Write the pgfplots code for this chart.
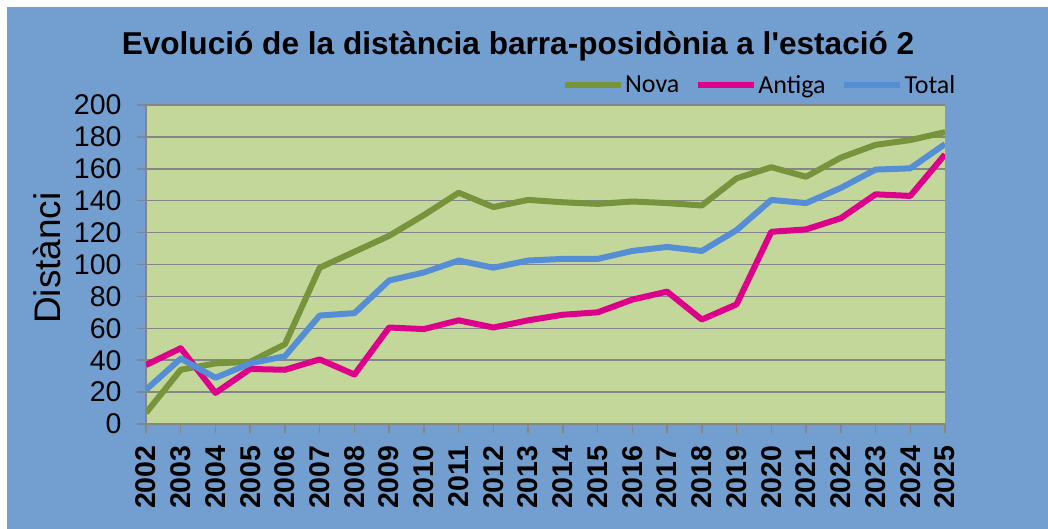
\documentclass[border=0pt]{standalone}
\usepackage{fontspec}
\setmainfont{Liberation Sans}[Ligatures=TeXOff]
\newfontfamily\calibri{Carlito}
\usepackage{pgfplots}
\pgfplotsset{compat=1.18}
\definecolor{bgblue}{RGB}{114,159,207}
\definecolor{plotgreen}{RGB}{196,215,155}
\definecolor{nova}{RGB}{119,147,60}
\definecolor{antiga}{RGB}{221,0,138}
\definecolor{total}{RGB}{85,142,213}
\definecolor{gridgray}{RGB}{134,134,134}

\pgfplotstableread{
year nova antiga total
2002 7 37 21.5
2003 34 47.5 41
2004 38 19.5 29
2005 39 34.5 38
2006 50 34 42.5
2007 98 40.5 68
2008 108 31 69.5
2009 118 60.5 90
2010 131 59.5 95
2011 145 65 102.5
2012 136 60.5 98
2013 140.5 65 102.5
2014 139 68.5 103.5
2015 138 70 103.5
2016 139.5 78 108.5
2017 138.5 83 111
2018 137 65.5 108.5
2019 154 75 121.5
2020 161 120.5 140.5
2021 155 122 138.5
2022 167 129 148
2023 175 144 159.5
2024 178 143 160.3
2025 183 169 175.5
}\datatable

\begin{document}
\begin{tikzpicture}
\useasboundingbox (0,0) rectangle (1048bp,529bp);
\fill[white] (0,0) rectangle (1048bp,529bp);
\fill[bgblue] (7bp,0) rectangle (1048bp,522bp);
\node[anchor=base, font=\fontsize{31.6bp}{36bp}\selectfont\bfseries] at (518bp,474bp) {Evolució de la distància barra-posidònia a l'estació 2};
\begin{axis}[
  at={(146bp,105bp)}, anchor=south west, scale only axis,
  width=799bp, height=319bp,
  xmin=2002, xmax=2025, ymin=0, ymax=200,
  xtick={2002,2003,...,2025}, ytick={0,20,...,200},
  axis lines*=left,
  axis line style={-, draw=gridgray, line width=1.5bp},
  axis background/.style={fill=plotgreen},
  ymajorgrids, major grid style={draw=gridgray, line width=1.5bp},
  tick align=outside, major tick length=9bp,
  tick style={draw=gridgray, line width=1.5bp},
  /pgf/number format/assume math mode=true,
  xticklabel shift=9bp, yticklabel shift=12bp,
  x tick label style={rotate=90, anchor=east, font=\fontsize{28.5bp}{28bp}\selectfont\bfseries, /pgf/number format/1000 sep={}},
  y tick label style={font=\fontsize{28.5bp}{28bp}\selectfont},
  ylabel={Distànci},
  every axis y label/.style={at={(rel axis cs:0,0.52)}, xshift=-99bp, rotate=90, anchor=center, font=\fontsize{37bp}{37bp}\selectfont},
  legend columns=3,
  legend style={at={(0.520,1.063)}, anchor=west, draw=none, fill=none, inner sep=0pt,
    font=\calibri\fontsize{26bp}{26bp}\selectfont, nodes={inner sep=1.5bp},
    /tikz/every even column/.append style={column sep=14bp}},
  legend image code/.code={\draw[#1] (0bp,0bp) -- (56bp,0bp);},
]
\addplot[nova, line width=6bp, line join=round] table[x=year,y=nova] {\datatable};
\addlegendentry{Nova}
\addplot[antiga, line width=6bp, line join=round] table[x=year,y=antiga] {\datatable};
\addlegendentry{Antiga}
\addplot[total, line width=6bp, line join=round] table[x=year,y=total] {\datatable};
\addlegendentry{Total}
\end{axis}
\end{tikzpicture}
\end{document}
